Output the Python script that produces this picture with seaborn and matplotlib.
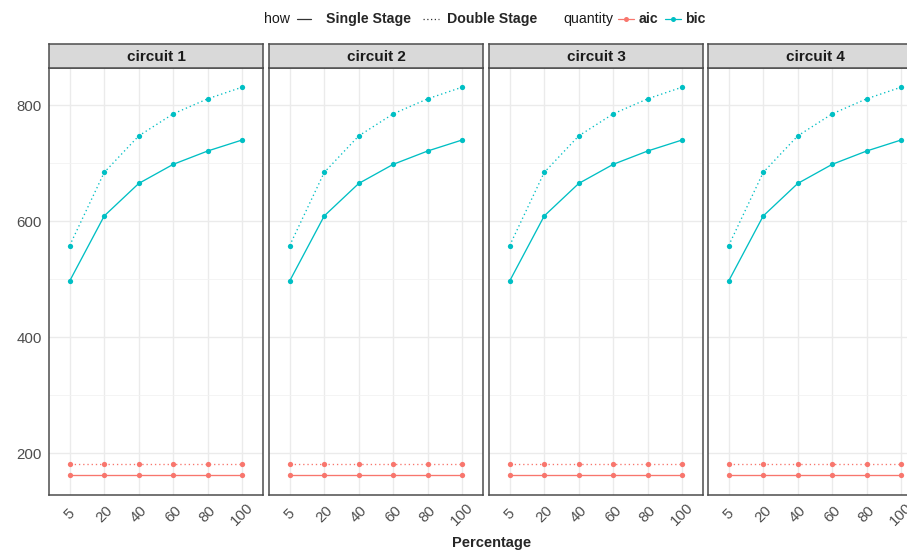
import matplotlib
matplotlib.use("Agg")
import matplotlib.pyplot as plt
from matplotlib.lines import Line2D
from matplotlib.ticker import MultipleLocator
import seaborn as sns
import pandas as pd

sns.set_style("white")
plt.rcParams["font.family"] = ["Liberation Sans", "DejaVu Sans"]

circuits = ["circuit 1", "circuit 2", "circuit 3", "circuit 4"]
percentages = ["5", "20", "40", "60", "80", "100"]
hows = ["Single Stage", "Double Stage"]
quantities = ["aic", "bic"]
aic_single = [162, 162, 162, 162, 162, 162]
aic_double = [182, 182, 182, 182, 182, 182]
bic_single = [497, 609, 665, 698, 721, 740]
bic_double = [558, 684, 747, 785, 811, 831]

series = {
    ("Single Stage", "aic"): aic_single,
    ("Double Stage", "aic"): aic_double,
    ("Single Stage", "bic"): bic_single,
    ("Double Stage", "bic"): bic_double,
}
rows = []
for c in circuits:
    for (h, q), vals in series.items():
        for p, v in zip(percentages, vals):
            rows.append(dict(circuit=c, Percentage=p, how=h, quantity=q, value=v))
df = pd.DataFrame(rows)

palette = {"aic": "#F8766D", "bic": "#00BFC4"}
dashes = {"Single Stage": "", "Double Stage": (1, 2.2)}
markers = {"Single Stage": "o", "Double Stage": "o"}

W, H = 907, 551
fig = plt.figure(figsize=(W / 100, H / 100), dpi=100)

lefts = [49, 269, 489, 708]
pw = 214
ptop, pbot = 68, 495
strip_h = 24
border = "#4D4D4D"
tickcol = "#4D4D4D"

for i, c in enumerate(circuits):
    ax = fig.add_axes([lefts[i] / W, (H - pbot) / H, pw / W, (pbot - ptop) / H])
    sub = df[df.circuit == c]
    sns.lineplot(data=sub, x="Percentage", y="value", hue="quantity", style="how",
                 hue_order=quantities, style_order=hows, palette=palette,
                 dashes=dashes, markers=markers, markersize=3.8, markeredgewidth=0,
                 linewidth=0.95, sort=False, legend=False, ax=ax, zorder=3)
    ax.set_xlim(-0.6, len(percentages) - 0.4)
    ax.set_ylim(128, 864)
    ax.yaxis.set_major_locator(MultipleLocator(200))
    ax.yaxis.set_minor_locator(MultipleLocator(100))
    ax.grid(True, which="major", color="#EBEBEB", linewidth=1.0, zorder=0)
    ax.grid(True, which="minor", axis="y", color="#F2F2F2", linewidth=0.6, zorder=0)
    ax.set_axisbelow(True)
    for s in ax.spines.values():
        s.set_color(border)
        s.set_linewidth(1.1)
    ax.set_xlabel("")
    ax.set_ylabel("")
    ax.tick_params(axis="x", which="major", length=3.5, width=0.8, color=border,
                   labelsize=10.8, labelcolor=tickcol, pad=10)
    ax.tick_params(axis="y", which="major", length=3.5, width=0.8, color=border,
                   labelsize=10.8, labelcolor=tickcol, pad=1.5)
    ax.tick_params(axis="y", which="minor", length=0)
    for lab in ax.get_xticklabels():
        lab.set_rotation(45)
        lab.set_ha("center")
        lab.set_va("center")
    if i > 0:
        ax.tick_params(axis="y", which="major", length=0, labelleft=False)
    # strip
    sax = fig.add_axes([lefts[i] / W, (H - ptop) / H, pw / W, strip_h / H])
    sax.set_facecolor("#D9D9D9")
    sax.set_xticks([])
    sax.set_yticks([])
    for s in sax.spines.values():
        s.set_color(border)
        s.set_linewidth(1.1)
    sax.text(0.5, 0.47, c, ha="center", va="center", fontsize=11, fontweight="bold",
             color="#1A1A1A", transform=sax.transAxes)

fig.text(492 / W, 1 - 543 / H, "Percentage", ha="center", va="center",
         fontsize=10.5, fontweight="bold")

# legend (manual layout, ggplot style: title left of keys)
ly = 1 - 19 / H
fs = 10.2


def fx(px):
    return px / W


def key(x0, x1, color, ls="-", marker=None):
    fig.add_artist(Line2D([fx(x0), fx(x1)], [ly, ly], color=color, linewidth=0.9,
                          linestyle=ls, transform=fig.transFigure))
    if marker:
        fig.add_artist(Line2D([fx((x0 + x1) / 2)], [ly], color=color, marker=marker,
                              markersize=3.6, markeredgewidth=0, linestyle="none",
                              transform=fig.transFigure))


fig.text(fx(264), ly, "how", ha="left", va="center", fontsize=fs, color="#1A1A1A")
key(297, 311, "#333333")
fig.text(fx(326), ly, hows[0], ha="left", va="center", fontsize=fs, fontweight="bold")
key(423, 439, "#333333", ls=(0, (1, 2)))
fig.text(fx(447), ly, hows[1], ha="left", va="center", fontsize=fs, fontweight="bold")
fig.text(fx(563), ly, "quantity", ha="left", va="center", fontsize=fs, color="#1A1A1A")
key(618, 634, palette["aic"], marker="o")
fig.text(fx(639), ly, quantities[0], ha="left", va="center", fontsize=fs, fontweight="bold")
key(665, 681, palette["bic"], marker="o")
fig.text(fx(685), ly, quantities[1], ha="left", va="center", fontsize=fs, fontweight="bold")

fig.savefig("out.png", dpi=100)
